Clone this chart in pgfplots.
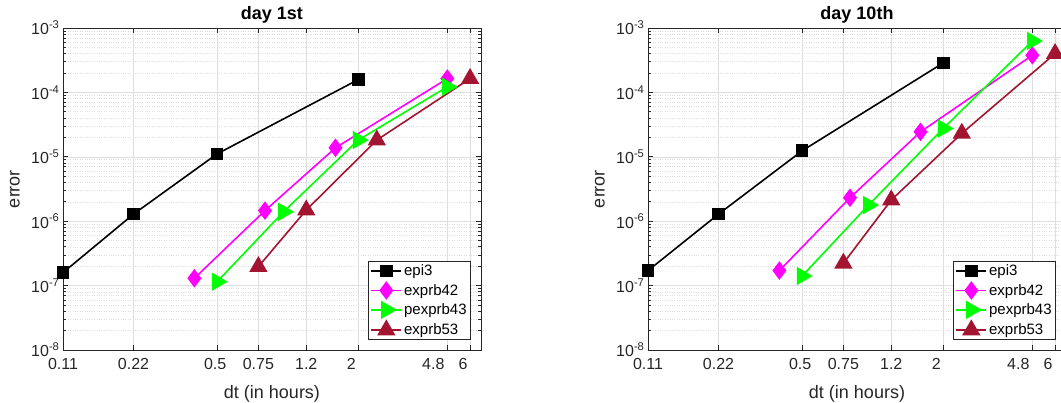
\documentclass[border=0pt]{standalone}
\usepackage{fontspec}
\setmainfont{Liberation Sans}
\usepackage{pgfplots}
\pgfplotsset{compat=1.18}

\definecolor{axgray}{RGB}{38,38,38}
\definecolor{gridgray}{RGB}{222,222,222}
\definecolor{mred}{rgb}{0.635,0.078,0.184}
\definecolor{mmag}{RGB}{255,0,255}
\definecolor{mgrn}{RGB}{0,255,0}

% line + marker legend sample, 30pt long
\pgfplotsset{
  legend image code/.code={%
    \draw[mark repeat=2, mark phase=2] plot coordinates {(0pt,0pt) (15pt,0pt) (30pt,0pt)};},
  sepi/.style={black, line width=1.6pt, mark=square*, mark size=5.5pt, mark options={solid, fill=black}},
  sb42/.style={mmag, line width=1.6pt, mark=diamond*, mark size=8pt, mark options={solid, fill=mmag}},
  sp43/.style={mgrn, line width=1.6pt, mark=triangle*, mark size=9pt, mark options={solid, fill=mgrn, rotate=-90}},
  sb53/.style={mred, line width=1.6pt, mark=triangle*, mark size=9pt, mark options={solid, fill=mred}},
}

\begin{document}
\begin{tikzpicture}
% day 1st
\begin{axis}[
  at={(63pt,52pt)}, anchor=south west,
  scale only axis, width=418pt, height=322pt,
  xmode=log, ymode=log,
  xmin=0.11, xmax=6.68, ymin=1e-8, ymax=1e-3,
  xtick={0.11,0.22,0.5,0.75,1.2,2,4.8,6},
  % labels sit a little left of some ticks, as in the original
  xticklabels={0.11,0.22,0.5\hspace*{4pt},0.75,1.2,2\hspace*{14pt},4.8\hspace*{28pt},6\hspace*{14pt}},
  minor xtick={},
  ytick={1e-8,1e-7,1e-6,1e-5,1e-4,1e-3},
  yticklabels={10\textsuperscript{-8},10\textsuperscript{-7},10\textsuperscript{-6},
               10\textsuperscript{-5},10\textsuperscript{-4},10\textsuperscript{-3}},
  xmajorgrids, ymajorgrids, yminorgrids,
  major grid style={gridgray, line width=0.6pt},
  minor grid style={gridgray, dotted, line width=0.6pt},
  axis line style={axgray, line width=0.7pt},
  tick style={axgray, line width=0.7pt},
  major tick length=5pt, minor tick length=3pt,
  tick align=inside,
  tick label style={axgray, font=\fontsize{16}{18}\selectfont},
  xticklabel style={yshift=-5pt},
  label style={axgray, font=\fontsize{18}{20}\selectfont},
  xlabel={dt (in hours)},
  ylabel={error},
  xlabel style={at={(axis description cs:0.5,-0.137)}, anchor=center},
  ylabel style={at={(axis description cs:-0.115,0.5)}, anchor=center},
  title={day 1st},
  title style={at={(axis description cs:0.5,1.022)}, anchor=center,
               font=\fontsize{18}{20}\selectfont\bfseries},
  clip=false,
  legend cell align=left,
  legend style={at={(rel axis cs:0.976,0.031)}, anchor=south east,
    draw=axgray, line width=0.6pt, fill=white,
    font=\fontsize{15}{17}\selectfont,
    inner xsep=2pt, inner ysep=1.5pt, row sep=3pt},
]
\addplot[sepi] coordinates {(0.11,1.59e-7) (0.22,1.29e-6) (0.5,1.11e-5) (2,1.58e-4)};
\addplot[sb42] coordinates {(0.4,1.30e-7) (0.8,1.46e-6) (1.6,1.38e-5) (4.8,1.64e-4)};
\addplot[sp43] coordinates {(0.5,1.15e-7) (0.96,1.40e-6) (2,1.82e-5) (4.8,1.22e-4)};
\addplot[sb53] coordinates {(0.75,1.97e-7) (1.2,1.49e-6) (2.4,1.82e-5) (6,1.64e-4)};
\legend{epi3,exprb42,pexprb43,exprb53}
\end{axis}
% day 10th
\begin{axis}[
  at={(648pt,52pt)}, anchor=south west,
  scale only axis, width=418pt, height=322pt,
  xmode=log, ymode=log,
  xmin=0.11, xmax=6.68, ymin=1e-8, ymax=1e-3,
  xtick={0.11,0.22,0.5,0.75,1.2,2,4.8,6},
  xticklabels={0.11,0.22,0.5\hspace*{4pt},0.75,1.2,2\hspace*{14pt},4.8\hspace*{28pt},6\hspace*{14pt}},
  minor xtick={},
  ytick={1e-8,1e-7,1e-6,1e-5,1e-4,1e-3},
  yticklabels={10\textsuperscript{-8},10\textsuperscript{-7},10\textsuperscript{-6},
               10\textsuperscript{-5},10\textsuperscript{-4},10\textsuperscript{-3}},
  xmajorgrids, ymajorgrids, yminorgrids,
  major grid style={gridgray, line width=0.6pt},
  minor grid style={gridgray, dotted, line width=0.6pt},
  axis line style={axgray, line width=0.7pt},
  tick style={axgray, line width=0.7pt},
  major tick length=5pt, minor tick length=3pt,
  tick align=inside,
  tick label style={axgray, font=\fontsize{16}{18}\selectfont},
  xticklabel style={yshift=-5pt},
  label style={axgray, font=\fontsize{18}{20}\selectfont},
  xlabel={dt (in hours)},
  ylabel={error},
  xlabel style={at={(axis description cs:0.5,-0.137)}, anchor=center},
  ylabel style={at={(axis description cs:-0.115,0.5)}, anchor=center},
  title={day 10th},
  title style={at={(axis description cs:0.5,1.022)}, anchor=center,
               font=\fontsize{18}{20}\selectfont\bfseries},
  clip=false,
  legend cell align=left,
  legend style={at={(rel axis cs:0.976,0.031)}, anchor=south east,
    draw=axgray, line width=0.6pt, fill=white,
    font=\fontsize{15}{17}\selectfont,
    inner xsep=2pt, inner ysep=1.5pt, row sep=3pt},
]
\addplot[sepi] coordinates {(0.11,1.71e-7) (0.22,1.29e-6) (0.5,1.24e-5) (2,2.87e-4)};
\addplot[sb42] coordinates {(0.4,1.71e-7) (0.8,2.31e-6) (1.6,2.44e-5) (4.8,3.77e-4)};
\addplot[sp43] coordinates {(0.5,1.41e-7) (0.96,1.78e-6) (2,2.75e-5) (4.8,6.3e-4)};
\addplot[sb53] coordinates {(0.75,2.22e-7) (1.2,2.13e-6) (2.4,2.31e-5) (6,4.0e-4)};
\legend{epi3,exprb42,pexprb43,exprb53}
\end{axis}
\pgfresetboundingbox
\path[use as bounding box] (0pt,0pt) rectangle (1061pt,402pt);
\end{tikzpicture}
\end{document}
